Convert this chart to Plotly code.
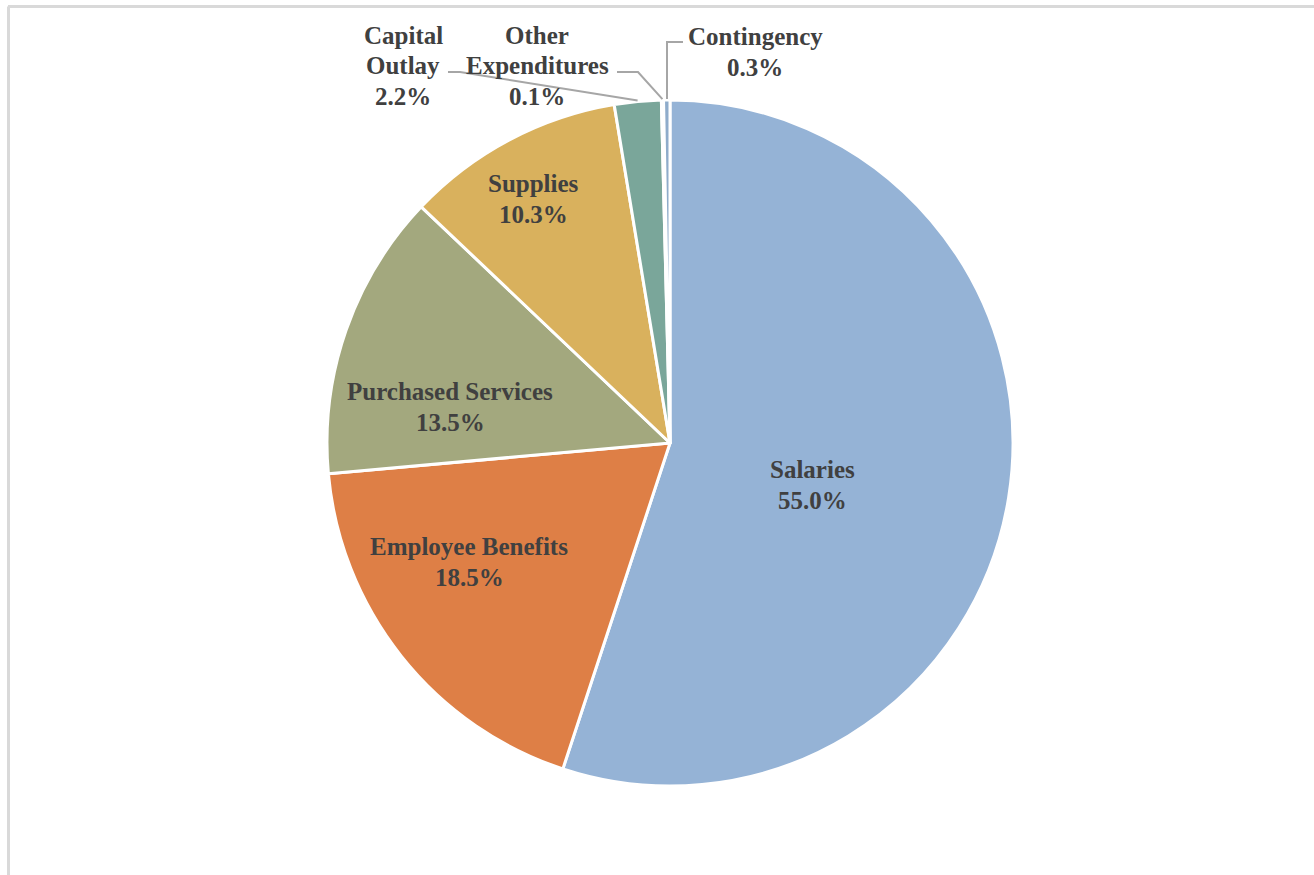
import math
import plotly.graph_objects as go

# Budget shares by expenditure category
categories = ["Salaries", "Employee Benefits", "Purchased Services", "Supplies",
              "Capital Outlay", "Other Expenditures", "Contingency"]
label_names = ["Salaries", "Employee Benefits", "Purchased Services", "Supplies",
               "Capital<br>Outlay", "Other<br>Expenditures", "Contingency"]
shares = [55.0, 18.5, 13.5, 10.3, 2.2, 0.1, 0.3]
colors = ["#95B3D6", "#DE7F46", "#A3A87E", "#D9B15D", "#7AA69A", "#DCE3EC", "#8FACCB"]

W, H = 1314, 875
CX, CY, R = 670, 443, 343          # pie centre and radius in pixels
LINE_GAP = 30.5                    # spacing between label lines (pixels)

# label block centres (pixels) for each category
label_pos = [(812, 485), (469, 562), (450, 407), (533, 199),
             (403, 66), (537, 66), (755, 52)]
# leader line elbows for the small outside slices: index -> elbow points (pixels)
leader_elbows = {4: [(448, 72), (460, 72)],
                 5: [(617, 72), (638, 72)],
                 6: [(683, 42), (667, 42)]}


def px(x):
    return x / W


def py(y):
    return 1 - y / H


def edge_point(i, extra=1.0):
    """Point just outside the rim at the middle angle of slice i."""
    total = sum(shares)
    mid = (sum(shares[:i]) + shares[i] / 2) / total
    ang = 2 * math.pi * mid                       # clockwise from 12 o'clock
    r = R + extra
    x = CX + r * math.sin(ang)
    y = CY - r * math.cos(ang)
    if i == 6:
        # vertical leader for the contingency slice
        x = leader_elbows[6][1][0]
    return x, y


fig = go.Figure(go.Pie(
    labels=categories,
    values=shares,
    sort=False,
    direction="clockwise",
    rotation=0,
    marker=dict(colors=colors, line=dict(color="white", width=3)),
    textinfo="none",
    hoverinfo="label+value",
    showlegend=False,
    domain=dict(x=[px(CX - R), px(CX + R)], y=[py(CY + R), py(CY - R)]),
))

annotations = []
for name, share, (lx, ly) in zip(label_names, shares, label_pos):
    lines = name.split("<br>") + [f"{share:.1f}%"]
    n = len(lines)
    for k, line in enumerate(lines):
        yk = ly + (k - (n - 1) / 2) * LINE_GAP
        annotations.append(dict(
            x=px(lx), y=py(yk), xref="paper", yref="paper",
            text=line,
            showarrow=False, xanchor="center", yanchor="middle",
            align="center",
            font=dict(family="Liberation Serif", size=25, color="#404040", weight="bold"),
        ))

shapes = []
for i, elbows in leader_elbows.items():
    ex, ey = edge_point(i)
    pts = elbows + [(ex, ey)]
    path = "M " + " L ".join(f"{px(x):.5f},{py(y):.5f}" for x, y in pts)
    shapes.append(dict(type="path", xref="paper", yref="paper", path=path,
                       line=dict(color="#A6A6A6", width=2)))

# chart frame (top and left edges)
shapes.append(dict(type="line", xref="paper", yref="paper",
                   x0=px(8), x1=1, y0=py(6.5), y1=py(6.5),
                   line=dict(color="#D9D9D9", width=3)))
shapes.append(dict(type="line", xref="paper", yref="paper",
                   x0=px(8.5), x1=px(8.5), y0=py(6.5), y1=0,
                   line=dict(color="#D9D9D9", width=3)))

fig.update_layout(
    width=W, height=H,
    margin=dict(l=0, r=0, t=0, b=0),
    paper_bgcolor="white", plot_bgcolor="white",
    annotations=annotations,
    shapes=shapes,
)

fig.write_html("out.html")
